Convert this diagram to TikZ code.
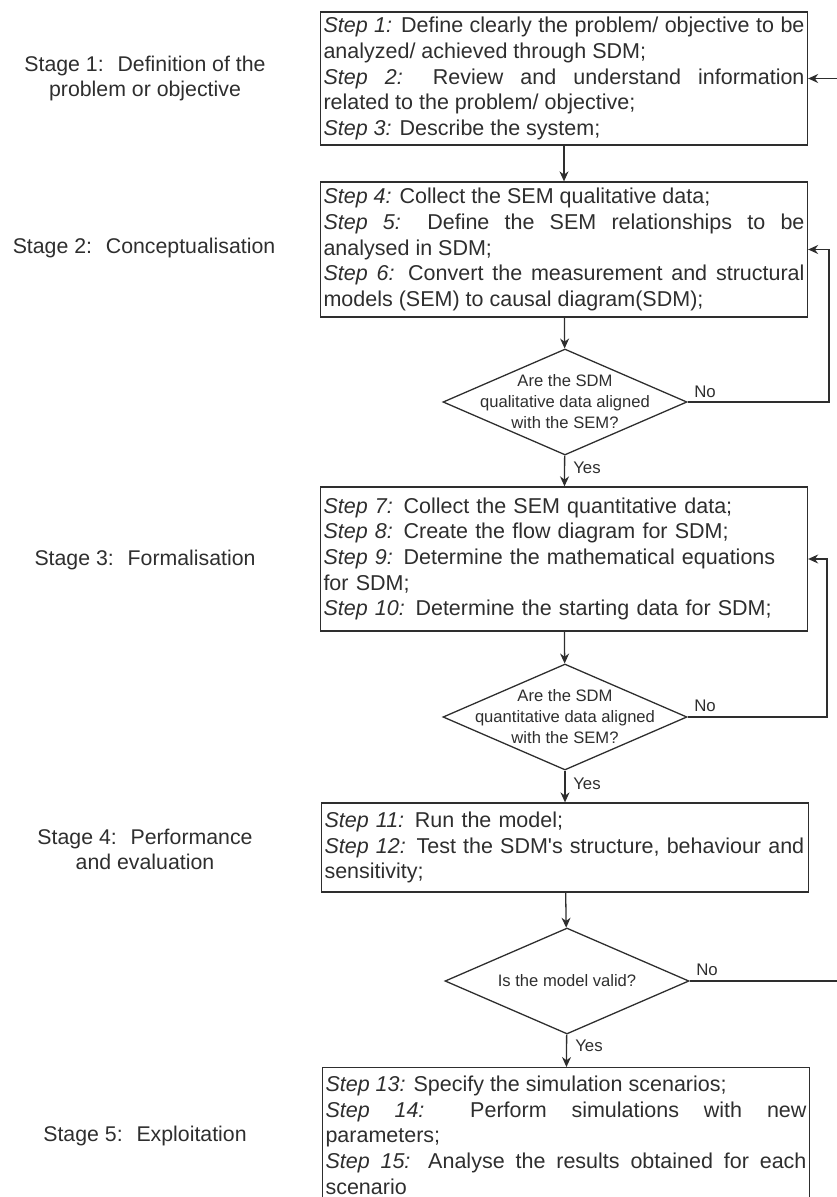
\documentclass[tikz,border=0pt]{standalone}
\usepackage{fontspec}
\setmainfont{Liberation Sans}
\usetikzlibrary{arrows.meta,shapes.geometric}

\definecolor{ink}{HTML}{2E2E2E}
\newcommand{\boxfont}{\fontsize{21.5}{25.7}\selectfont
  \hyphenpenalty=10000\relax\tolerance=9999\relax}

\begin{document}
\begin{tikzpicture}[x=1pt, y=-1pt,
    stepbox/.style={rectangle, draw=ink, line width=1.3pt, text=ink,
        text width=481pt, inner sep=3pt, align=justify, font=\boxfont},
    leftbox/.style={stepbox, align=left},
    decision/.style={diamond, draw=ink, line width=1.3pt,
        minimum width=244pt, minimum height=106pt, inner sep=0pt},
    dtext/.style={align=center, text=ink, font=\fontsize{16.6}{21}\selectfont},
    stage/.style={align=center, text=ink, font=\fontsize{21.3}{25}\selectfont},
    answer/.style={text=ink, font=\fontsize{16.8}{20}\selectfont, inner sep=0pt},
    flow/.style={draw=ink, line width=1.3pt, -{Stealth[length=10pt, width=9pt]}}
]
\useasboundingbox (0,0) rectangle (837,1197);

% stages on the left
\node[stage] (s1) at (145,  78) {Stage 1:~ Definition of the\\problem or objective};
\node[stage] (s2) at (144, 248) {Stage 2:~ Conceptualisation};
\node[stage] (s3) at (145, 560) {Stage 3:~ Formalisation};
\node[stage] (s4) at (145, 849) {Stage 4:~ Performance\\and evaluation};
\node[stage] (s5) at (145,1136) {Stage 5:~ Exploitation};

% steps
\node[stepbox, minimum height=133pt] (b1) at (564, 78.5) {\textit{Step 1:} Define clearly the problem/ objective to be analyzed/ achieved through SDM;\\ \textit{Step 2:} Review and understand information\linebreak related to the problem/ objective;\\ \textit{Step 3:} Describe the system;};
\node[stepbox, minimum height=135pt] (b2) at (564, 249.5) {\textit{Step 4:} Collect the SEM qualitative data;\\ \textit{Step 5:} Define the SEM relationships to be analysed in SDM;\\ \textit{Step 6:} Convert the measurement and structural models (SEM) to causal diagram(SDM);};
\node[leftbox, minimum height=144pt] (b3) at (564, 559) {\textit{Step 7:} Collect the SEM quantitative data;\\ \textit{Step 8:} Create the flow diagram for SDM;\\ \textit{Step 9:} Determine the mathematical equations for SDM;\\ \textit{Step 10:} Determine the starting data for SDM;};
\node[leftbox, minimum height=89pt] (b4) at (565, 847.5) {\textit{Step 11:} Run the model;\\ \textit{Step 12:} Test the SDM\textquotesingle s structure, behaviour and sensitivity;};
\node[stepbox, minimum height=135pt, anchor=north] (b5) at (566, 1067) {\textit{Step 13:} Specify the simulation scenarios;\\ \textit{Step 14:} Perform simulations with new\linebreak parameters;\\ \textit{Step 15:} Analyse the results obtained for each scenario};

% checks
\node[decision] (d1) at (565, 402) {};
\node[dtext] (q1) at (d1) {Are the SDM\\qualitative data aligned\\with the SEM?};
\node[decision] (d2) at (565, 717) {};
\node[dtext] (q2) at (d2) {Are the SDM\\quantitative data aligned\\with the SEM?};
\node[decision] (d3) at (567, 981) {};
\node[dtext] (q3) at (d3) {Is the model valid?};

% turning points of the loops
\coordinate (r1) at (829, 402);
\coordinate (r2) at (827, 717);
\coordinate (r3) at (850, 981);

\draw[flow] (b1) -- (b2);
\draw[flow] (b2) -- (d1);
\draw[flow] (d1) -- (b3);
\draw[flow] (b3) -- (d2);
\draw[flow] (d2) -- (b4);
\draw[flow] (b4) -- (d3);
\draw[flow] (d3) -- (b5);

\draw[flow] (d1.east) -- (r1) |- (b2.east);
\draw[flow] (d2.east) -- (r2) |- (b3.east);
\draw[flow] (d3.east) -- (r3) |- (b1.east);

\node[answer] (no1)  at (705, 392) {No};
\node[answer] (yes1) at (587, 468) {Yes};
\node[answer] (no2)  at (705, 706) {No};
\node[answer] (yes2) at (587, 784) {Yes};
\node[answer] (no3)  at (707, 970) {No};
\node[answer] (yes3) at (589, 1046) {Yes};
\end{tikzpicture}
\end{document}
